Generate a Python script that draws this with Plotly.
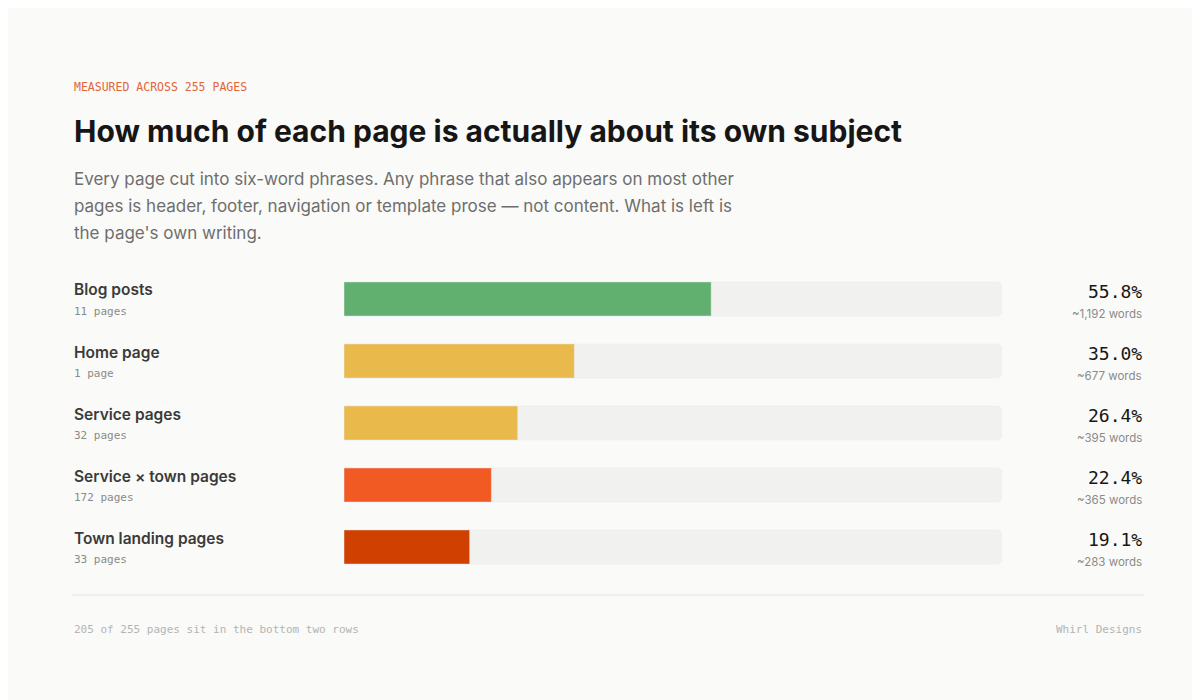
import plotly.graph_objects as go

categories = ["Blog posts", "Home page", "Service pages", "Service × town pages", "Town landing pages"]
page_counts = ["11 pages", "1 page", "32 pages", "172 pages", "33 pages"]
shares = [55.8, 35.0, 26.4, 22.4, 19.1]
words = ["~1,192 words", "~677 words", "~395 words", "~365 words", "~283 words"]
colors = ["#62b06f", "#e9b94b", "#e9b94b", "#f25a24", "#d04000"]

W, H = 1200, 700
def px(x): return x / W
def py(y): return 1 - y / H

fig = go.Figure()
fig.add_trace(go.Bar(y=list(range(5)), x=[100]*5, orientation="h", marker_color="#f1f1ef",
                     width=0.55, hoverinfo="skip", showlegend=False))
fig.add_trace(go.Bar(y=list(range(5)), x=shares, orientation="h", marker_color=colors,
                     width=0.55, showlegend=False))

ann = []
def A(x, y, t, size, color, family="Inter", anchor="left", weight=None):
    ann.append(dict(x=px(x), y=py(y), xref="paper", yref="paper", text=t, showarrow=False,
                    xanchor=anchor, yanchor="middle",
                    font=dict(size=size, color=color, family=family, weight=weight)))

A(64, 79, "MEASURED ACROSS 255 PAGES", 11.5, "#e0663a", "DejaVu Sans Mono")
A(64, 123, "How much of each page is actually about its own subject", 30, "#161616", weight=700)
for i, line in enumerate(["Every page cut into six-word phrases. Any phrase that also appears on most other",
                          "pages is header, footer, navigation or template prose — not content. What is left is",
                          "the page's own writing."]):
    A(64, 171 + 27 * i, line, 17, "#6e6e6e")

for i in range(5):
    yc = 291 + 62 * i
    A(64, yc - 9, categories[i], 15.5, "#3a3a3a", weight=600)
    A(64, yc + 12, page_counts[i], 11, "#8a8a8a", "DejaVu Sans Mono")
    A(1136, yc - 8, f"{shares[i]:.1f}%", 18, "#161616", "DejaVu Sans Mono", "right")
    A(1136, yc + 15, words[i], 11.5, "#8a8a8a", anchor="right")

A(64, 621, "205 of 255 pages sit in the bottom two rows", 11, "#b4b4b4", "DejaVu Sans Mono")
A(1136, 621, "Whirl Designs", 11, "#b4b4b4", "DejaVu Sans Mono", "right")

fig.update_layout(
    width=W, height=H, margin=dict(l=0, r=0, t=0, b=0),
    paper_bgcolor="#fafaf8", plot_bgcolor="#fafaf8",
    barmode="overlay", barcornerradius=5, annotations=ann,
    xaxis=dict(domain=[px(336), px(994)], range=[0, 100], visible=False, fixedrange=True),
    yaxis=dict(domain=[py(570), py(260)], range=[4.5, -0.5], visible=False, fixedrange=True),
    shapes=[dict(type="line", xref="paper", yref="paper", x0=px(64), x1=px(1136),
                 y0=py(587), y1=py(587), line=dict(color="#e4e4e2", width=1))],
)
fig.write_html("out.html")
